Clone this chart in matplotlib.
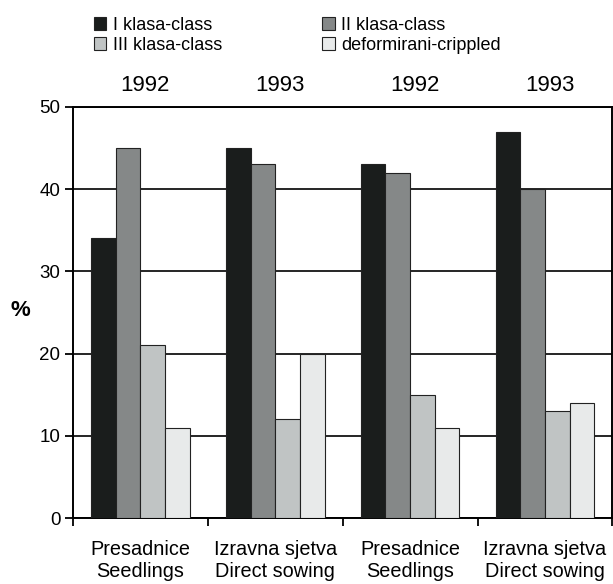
import matplotlib
matplotlib.use('Agg')
import matplotlib.pyplot as plt
import numpy as np

plt.rcParams['font.family'] = ['Liberation Sans', 'DejaVu Sans']

# ---------------------------------------------------------------------------
# Data
# ---------------------------------------------------------------------------
groups = ['Presadnice\nSeedlings', 'Izravna sjetva\nDirect sowing',
          'Presadnice\nSeedlings', 'Izravna sjetva\nDirect sowing']
years = ['1992', '1993', '1992', '1993']
series = ['I klasa-class', 'II klasa-class', 'III klasa-class', 'deformirani-crippled']
class_1 = [34, 45, 43, 47]
class_2 = [45, 43, 42, 40]
class_3 = [21, 12, 15, 13]
crippled = [11, 20, 11, 14]

colors = ['#1a1d1c', '#858888', '#c0c4c4', '#e8eaea']

fig = plt.figure(figsize=(6.13, 5.84), dpi=100)
ax = fig.add_axes([0.119, 0.113, 0.880, 0.704])

x = np.arange(len(groups))
w = 0.183
handles = []
for i, (vals, col, lab) in enumerate(zip([class_1, class_2, class_3, crippled], colors, series)):
    b = ax.bar(x + (i - 1.5) * w, vals, width=w, color=col, edgecolor='#222222',
               linewidth=0.8, label=lab, zorder=3)
    handles.append(b)

ax.set_xlim(-0.5, len(groups) - 0.5)
ax.set_ylim(0, 50)
ax.set_yticks([0, 10, 20, 30, 40, 50])
ax.yaxis.grid(True, color='black', linewidth=1.2, zorder=0)
ax.set_axisbelow(True)

for s in ax.spines.values():
    s.set_linewidth(1.4)

# category ticks between groups, labels centred under groups
ax.set_xticks(np.arange(len(groups) + 1) - 0.5)
ax.set_xticklabels([])
ax.set_xticks(x, minor=True)
ax.set_xticklabels(groups, minor=True, fontsize=14.3, linespacing=1.17)
ax.tick_params(axis='x', which='minor', length=0, pad=16)
ax.tick_params(axis='x', which='major', length=6, width=1.3, direction='out')
ax.tick_params(axis='y', length=6, width=1.3, labelsize=13.5, pad=3)

fig.text(20 / 613, 1 - 311 / 584, '%', fontsize=16, fontweight='bold',
         ha='center', va='center')

# years above the plot
for xi, yr in zip(x, years):
    ax.text(xi + 0.035, 51.3, yr, ha='center', va='bottom', fontsize=16)

# legend
order = [0, 2, 1, 3]
fig.legend([handles[k] for k in order], [series[k] for k in order],
           loc='upper left', bbox_to_anchor=(0.132, 0.9925), ncol=2, frameon=False,
           fontsize=13, handlelength=0.7, handleheight=0.7, handletextpad=0.35,
           columnspacing=5.55, labelspacing=0.15, borderaxespad=0.3)

fig.savefig('out.png', dpi=100)
